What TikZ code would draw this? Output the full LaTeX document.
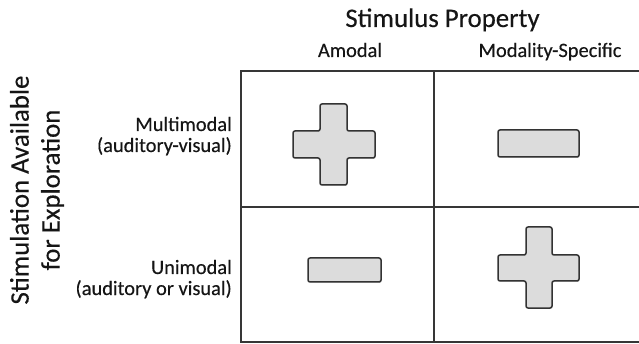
\documentclass[tikz,border=0pt]{standalone}
\usepackage{fontspec}
\setmainfont[FakeBold=0.35]{Carlito}
\usetikzlibrary{shadows}
\definecolor{gridc}{HTML}{363636}
\definecolor{symc}{HTML}{333333}
\definecolor{symfill}{HTML}{DCDCDC}
\definecolor{txt}{HTML}{151515}
\begin{document}
\begin{tikzpicture}[x=1pt,y=-1pt,
  gridline/.style={line width=2pt, draw=gridc},
  sym/.style={line width=1.5pt, draw=symc, fill=symfill, rounded corners=2pt,
    drop shadow={opacity=0.25, shadow xshift=0.8pt, shadow yshift=-0.8pt}},
  lab/.style={inner sep=0pt, text=txt},
  big/.style={font=\fontsize{26.8}{31}\selectfont},
  small/.style={font=\fontsize{20.4}{21}\selectfont}]
\useasboundingbox (0,0) rectangle (639,344);
% grid
\coordinate (tr) at (639,71);
\coordinate (tl) at (241,71);
\coordinate (bl) at (241,342);
\coordinate (br) at (639,342);
\coordinate (mt) at (434,71);
\coordinate (mb) at (434,342);
\coordinate (ml) at (241,207);
\coordinate (mr) at (639,207);
\draw[gridline] (tr) -- (tl) -- (bl) -- (br);
\draw[gridline] (mt) -- (mb);
\draw[gridline] (ml) -- (mr);
% headers
\node[lab, big, anchor=base] (title) at (442.5,27) {Stimulus Property};
\node[lab, small, anchor=base] (amodal) at (350,57) {Amodal};
\node[lab, small, anchor=base] (modspec) at (550,57) {Modality-Specific};
% row labels
\node[lab, small, anchor=base east] (multi1) at (232,131) {Multimodal};
\node[lab, small, anchor=base east] (multi2) at (232,152) {(auditory-visual)};
\node[lab, small, anchor=base east] (uni1) at (232,274) {Unimodal};
\node[lab, small, anchor=base east] (uni2) at (232,295) {(auditory or visual)};
% vertical axis label
\node[lab, big, rotate=90, align=center] (vaxis) at (37,190) {Stimulation Available\\for Exploration};
% symbols
\draw[sym] (320,104) -- (347,104) -- (347,131) -- (375,131) -- (375,158) -- (347,158)
  -- (347,185) -- (320,185) -- (320,158) -- (293,158) -- (293,131) -- (320,131) -- cycle;
\draw[sym] (498,130) rectangle (579,157);
\draw[sym] (308,258) rectangle (381,282);
\draw[sym] (526,227) -- (552,227) -- (552,255) -- (579,255) -- (579,281) -- (552,281)
  -- (552,308) -- (526,308) -- (526,281) -- (498,281) -- (498,255) -- (526,255) -- cycle;
\end{tikzpicture}
\end{document}
